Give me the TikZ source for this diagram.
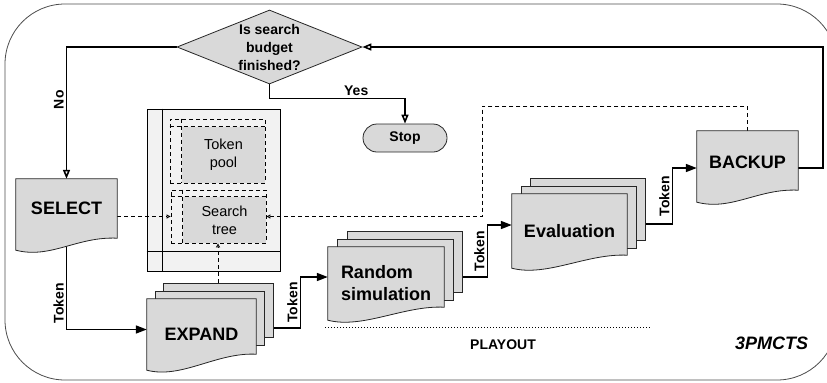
\documentclass[tikz,border=0pt]{standalone}
\usepackage{fontspec}
\setmainfont{Liberation Sans}
\usetikzlibrary{arrows.meta,shapes.geometric,calc}
\pgfdeclarelayer{bg}
\pgfdeclarelayer{conn}
\pgfdeclarelayer{shapes}
\pgfsetlayers{bg,conn,shapes,main}
\definecolor{docgray}{HTML}{D9D9D9}
\definecolor{lightbg}{HTML}{F2F2F2}
\newcommand\fbig{\fontsize{18bp}{22bp}\selectfont\bfseries}
\newcommand\fmid{\fontsize{14bp}{18bp}\selectfont\bfseries}
\newcommand\freg{\fontsize{14.5bp}{18bp}\selectfont}
\tikzset{
  docnode/.style={rectangle, inner sep=0pt, font=\fbig},
  docline/.style={draw=black!85, line width=0.8bp, fill=docgray},
  stackbox/.style={rectangle, inner sep=0pt, draw=black!85, line width=0.8bp, fill=docgray},
  flow/.style={line width=1.6bp, -{Triangle[length=11bp,width=8bp]}},
  loopflow/.style={line width=1.6bp, -{Triangle[open,length=9bp,width=7bp,fill=white]}},
  dataflow/.style={line width=0.8bp, dash pattern=on 4bp off 3bp, -{Triangle[open,length=4bp,width=4bp,fill=white]}},
  lbl/.style={font=\fmid, inner sep=2bp},
  dashbox/.style={rectangle, inner sep=0pt, draw=black, line width=0.8bp, dash pattern=on 4bp off 3bp},
  dashln/.style={draw=black, line width=0.8bp, dash pattern=on 4bp off 3bp},
  innerfill/.style={rectangle, inner sep=0pt, fill=docgray, font=\freg, align=center},
}
\newcommand\docshape[2]{%
  \begin{pgfonlayer}{shapes}
  \path[docline] (#1.north west) -- (#1.north east) -- ([yshift=#2]#1.south east)
     .. controls +(-40,-2) and +(35,9) .. (#1.south west) -- cycle;
  \end{pgfonlayer}}
\begin{document}
\begin{tikzpicture}[x=1bp,y=-1bp]
\useasboundingbox (0,0) rectangle (827,382);

% ---------- background: frame and storage ----------
\begin{pgfonlayer}{bg}
\draw[black!70, line width=0.8bp, rounded corners=60bp] (5,4) rectangle (837,380);
\node[rectangle, draw=black, fill=lightbg, line width=0.8bp, minimum width=133bp, minimum height=162bp, inner sep=0pt] (store) at (213.5,190) {};
\draw[line width=0.8bp] ([xshift=16bp]store.north west) -- ([xshift=16bp]store.south west);
\draw[line width=0.8bp] ([yshift=20bp]store.south west) -- ([yshift=20bp]store.south east);
% token pool
\node[innerfill, minimum width=83bp, minimum height=56bp] (poolin) at (223.5,155) {Token\\pool};
\node[dashbox, minimum width=95bp, minimum height=64bp] (pool) at (217.5,151) {};
\draw[dashln] ([xshift=12bp]pool.north west) -- ([xshift=12bp]pool.south west);
\draw[dashln] ([yshift=-8bp]pool.north west) -- ([yshift=-8bp]pool.north east);
% search tree
\node[innerfill, minimum width=83bp, minimum height=46bp] (streein) at (224.5,220) {Search\\tree};
\node[dashbox, minimum width=95bp, minimum height=53bp] (stree) at (218.5,216.5) {};
\draw[dashln] ([xshift=12bp]stree.north west) -- ([xshift=12bp]stree.south west);
\draw[dashln] ([yshift=-7bp]stree.north west) -- ([yshift=-7bp]stree.north east);
\end{pgfonlayer}

% ---------- shapes ----------
\begin{pgfonlayer}{shapes}
\node[diamond, draw=black!85, fill=docgray, line width=0.8bp, aspect=2.5, minimum width=185bp, minimum height=74bp, inner sep=0pt, align=center, font=\fmid] (dia) at (269.5,47) {Is search\\budget\\finished?};
\node[rectangle, rounded corners=14bp, draw=black!85, fill=docgray, line width=0.8bp, minimum width=84bp, minimum height=28bp, inner sep=0pt, font=\fmid] (stop) at (405,138) {Stop};
% stacks
\node[stackbox, minimum width=110bp, minimum height=54bp] (exb) at (218,310) {};
\node[stackbox, minimum width=109bp, minimum height=54bp] (exm) at (209.5,318) {};
\node[stackbox, minimum width=115bp, minimum height=61bp] (rsb) at (404.5,261.5) {};
\node[stackbox, minimum width=116bp, minimum height=61bp] (rsm) at (395,269.5) {};
\node[stackbox, minimum width=115bp, minimum height=62bp] (evb) at (587.5,209) {};
\node[stackbox, minimum width=115bp, minimum height=62bp] (evm) at (578.5,217) {};
\end{pgfonlayer}

\node[docnode, minimum width=101bp, minimum height=71bp] (select) at (66.5,214.5) {\raisebox{6bp}[\height][\depth]{SELECT}};
\node[docnode, minimum width=109bp, minimum height=71bp] (expand) at (201.5,334.5) {EXPAND\hspace{14bp}};
\node[docnode, align=left, minimum width=116bp, minimum height=73bp] (random) at (386,283.5) {Random\\simulation};
\node[docnode, minimum width=115bp, minimum height=74bp] (eval) at (569.5,231) {Evaluation};
\node[docnode, minimum width=101bp, minimum height=71bp] (backup) at (747.5,166.5) {\raisebox{4bp}[\height][\depth]{BACKUP}};
\docshape{select}{12bp}
\docshape{expand}{16bp}
\docshape{random}{13bp}
\docshape{eval}{13bp}
\docshape{backup}{12bp}

% ---------- connectors ----------
\coordinate (fbc) at (823,47);
\coordinate (dtop) at (482,106);
\begin{pgfonlayer}{conn}
\draw[loopflow] ([yshift=-1.5bp]backup.east) -| (fbc) -- (dia.east);
\draw[loopflow] (dia.west) -| node[lbl, rotate=90, anchor=south, pos=0.70] {No} (select.north);
\draw[loopflow] (dia.south) -- ++(0,14) -| node[lbl, anchor=south, pos=0.32] {Yes} (stop.north);
\draw[flow] (select.center) |- node[lbl, rotate=90, anchor=south, pos=0.385] {Token} ([yshift=5bp]expand.west);
\draw[flow] ([yshift=-18bp]exb.east) -- ++(27,0) |- node[lbl, rotate=90, anchor=south, pos=0.25] {Token} ([yshift=6.5bp]random.west);
\draw[flow] ([yshift=-15.5bp]rsb.east) -- ++(25,0) |- node[lbl, rotate=90, anchor=south, pos=0.25] {Token} ([yshift=6bp]eval.west);
\draw[flow] ([yshift=-15bp]evb.east) -- ++(27,0) |- node[lbl, rotate=90, anchor=south, pos=0.25] {Token} ([yshift=-1.5bp]backup.west);
\draw[dataflow] (select.east |- stree.west) -- (stree.west);
\draw[dataflow] (backup.north) |- (dtop) |- (stree.east);
\draw[dataflow] (exb.north) -- (exb.north |- stree.south);
\end{pgfonlayer}

% ---------- playout and title ----------
\draw[line width=0.8bp, dash pattern=on 1bp off 2bp] (325,327) -- (652,327);
\node[font=\fmid] (playout) at (503,345) {PLAYOUT};
\node[font=\fbig\itshape] (title) at (771.5,343) {3PMCTS};
\end{tikzpicture}
\end{document}
